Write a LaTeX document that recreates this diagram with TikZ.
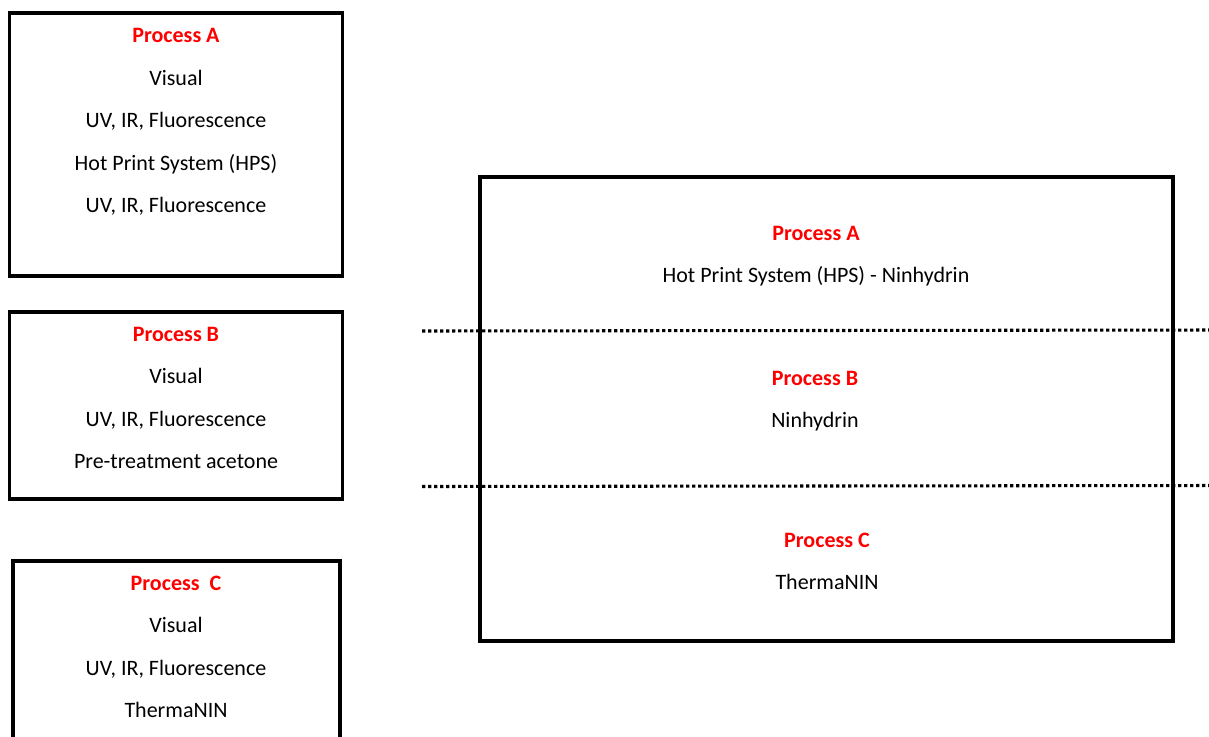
\documentclass[tikz,border=0pt]{standalone}
\usepackage{fontspec}
\setmainfont{Carlito}
\definecolor{procred}{RGB}{255,0,0}
\tikzset{
  boxframe/.style={draw=black, line width=2.7pt, fill=none, inner sep=0pt},
  bigframe/.style={draw=black, line width=2.3pt, fill=none, inner sep=0pt},
  title/.style={anchor=base, inner sep=0pt, text=procred, font=\fontsize{16.5}{19}\selectfont\bfseries},
  item/.style={anchor=base, inner sep=0pt, text=black, font=\fontsize{16.5}{19}\selectfont},
  divider/.style={line width=2.3pt, dash pattern=on 2.6pt off 1.9pt, black}
}
\begin{document}
\begin{tikzpicture}[x=0.75pt,y=-0.75pt]
\clip (0,0) rectangle (1209,736);
\fill[white] (0,0) rectangle (1209,736);
% left boxes
\node[boxframe, minimum width=333*0.75pt, minimum height=263.5*0.75pt] (bA) at (176,144.5) {};
\node[boxframe, minimum width=333*0.75pt, minimum height=187*0.75pt] (bB) at (176,405.5) {};
\node[boxframe, minimum width=327*0.75pt, minimum height=260*0.75pt] (bC) at (176.5,691) {};
% right box
\node[bigframe, minimum width=693*0.75pt, minimum height=464*0.75pt] (bR) at (826.5,409) {};
% dividers
\coordinate (d1s) at (422,331);
\coordinate (d1e) at (1215,330);
\coordinate (d2s) at (422,486.5);
\coordinate (d2e) at (1215,485.5);
\draw[divider] (d1s) -- (d1e);
\draw[divider] (d2s) -- (d2e);
% box A text
\node[title] (tA) at (176,42) {Process A};
\node[item] (a1) at (176,85) {Visual};
\node[item] (a2) at (176,127.5) {UV, IR, Fluorescence};
\node[item] (a3) at (176,170) {Hot Print System (HPS)};
\node[item] (a4) at (176,212.5) {UV, IR, Fluorescence};
% box B text
\node[title] (tB) at (176,341) {Process B};
\node[item] (b1) at (176,383.5) {Visual};
\node[item] (b2) at (176,426) {UV, IR, Fluorescence};
\node[item] (b3) at (176,468.5) {Pre-treatment acetone};
% box C text
\node[title] (tC) at (176,590) {Process\ \ C};
\node[item] (c1) at (176,632.5) {Visual};
\node[item] (c2) at (176,675) {UV, IR, Fluorescence};
\node[item] (c3) at (176,717.5) {ThermaNIN};
% right box text
\node[title] (rA) at (816,240) {Process A};
\node[item] (r1) at (816,282.5) {Hot Print System (HPS) - Ninhydrin};
\node[title] (rB) at (815,385) {Process B};
\node[item] (r2) at (815,427) {Ninhydrin};
\node[title] (rC) at (827,547) {Process C};
\node[item] (r3) at (827,589) {ThermaNIN};
\end{tikzpicture}
\end{document}
